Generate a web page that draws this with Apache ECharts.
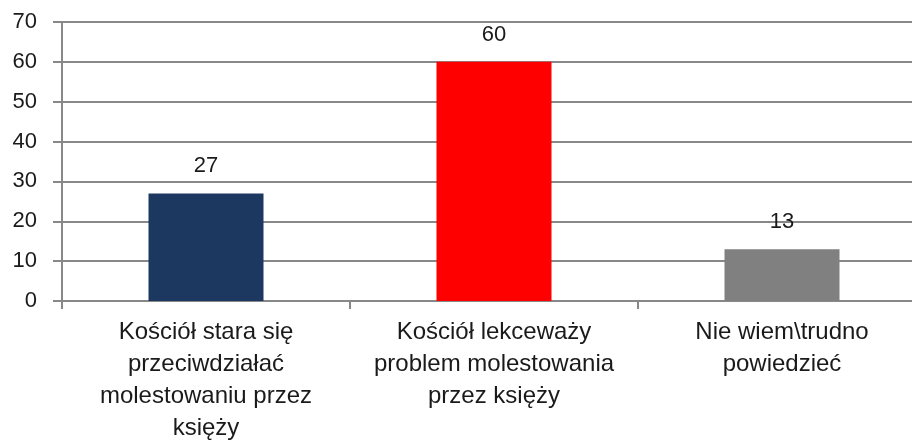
<!DOCTYPE html>
<html>
<head>
<meta charset="utf-8">
<script src="https://cdn.jsdelivr.net/npm/echarts@6/dist/echarts.min.js"></script>
<style>
html,body{margin:0;padding:0;background:#fff;}
#c{width:912px;height:443px;}
</style>
</head>
<body>
<div id="c"></div>
<script>
const categories = [
  "Kościół stara się\nprzeciwdziałać\nmolestowaniu przez\nksięży",
  "Kościół lekceważy\nproblem molestowania\nprzez księży",
  "Nie wiem\\trudno\npowiedzieć"
];
const values = [27, 60, 13];
const barColors = ["#1c3760", "#ff0000", "#808080"];
const yTicks = [0, 10, 20, 30, 40, 50, 60, 70];

const chart = echarts.init(document.getElementById('c'), null, {renderer: 'canvas'});
const font = "'Liberation Sans', Arial, sans-serif";
chart.setOption({
  animation: false,
  backgroundColor: '#fff',
  grid: {left: 62, top: 22, width: 864, height: 279, containLabel: false, outerBoundsMode: 'none'},
  xAxis: {
    type: 'category',
    data: categories,
    boundaryGap: true,
    axisLine: {show: true, lineStyle: {color: '#888888', width: 2}},
    axisTick: {show: true, length: 8, lineStyle: {color: '#888888', width: 2}},
    axisLabel: {interval: 0, margin: 15, color: '#1a1a1a', fontFamily: font, fontSize: 24, lineHeight: 32, align: 'center'},
    splitLine: {show: false}
  },
  yAxis: {
    type: 'value',
    min: yTicks[0], max: yTicks[yTicks.length - 1], interval: 10,
    axisLine: {show: true, lineStyle: {color: '#888888', width: 2}},
    axisTick: {show: true, length: 9, lineStyle: {color: '#888888', width: 2}},
    axisLabel: {margin: 25, color: '#1a1a1a', fontFamily: font, fontSize: 22},
    splitLine: {show: true, lineStyle: {color: '#888888', width: 2}}
  },
  series: [{
    type: 'bar',
    data: values.map((v, i) => ({value: v, itemStyle: {color: barColors[i]}})),
    barWidth: 115,
    label: {show: true, position: 'top', distance: 16, color: '#1a1a1a', fontFamily: font, fontSize: 22}
  }]
});
</script>
</body>
</html>
